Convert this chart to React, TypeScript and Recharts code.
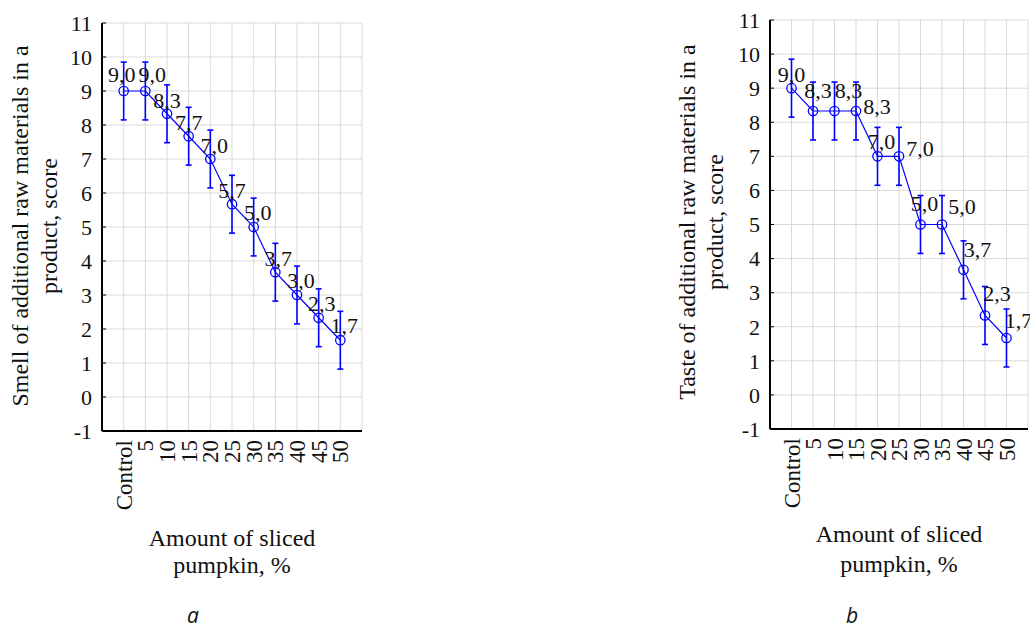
import {
  CartesianGrid,
  ComposedChart,
  ErrorBar,
  LabelList,
  Line,
  XAxis,
  YAxis,
} from "recharts";

const categories = ["Control", "5", "10", "15", "20", "25", "30", "35", "40", "45", "50"];
const categoryIndex = [0, 1, 2, 3, 4, 5, 6, 7, 8, 9, 10];
const yTicks = [-1, 0, 1, 2, 3, 4, 5, 6, 7, 8, 9, 10, 11];

const smellScores = [9.0, 9.0, 8.33, 7.67, 7.0, 5.67, 5.0, 3.67, 3.0, 2.33, 1.67];
const smellErrors = [0.85, 0.85, 0.85, 0.85, 0.85, 0.85, 0.85, 0.85, 0.85, 0.85, 0.85];
const smellLabels = ["9,0", "9,0", "8,3", "7,7", "7,0", "5,7", "5,0", "3,7", "3,0", "2,3", "1,7"];

const tasteScores = [9.0, 8.33, 8.33, 8.33, 7.0, 7.0, 5.0, 5.0, 3.67, 2.33, 1.67];
const tasteErrors = [0.85, 0.85, 0.85, 0.85, 0.85, 0.85, 0.85, 0.85, 0.85, 0.85, 0.85];
const tasteLabels = ["9,0", "8,3", "8,3", "8,3", "7,0", "7,0", "5,0", "5,0", "3,7", "2,3", "1,7"];

// where the value labels sit relative to their point [dx, dy]
const smellLabelShift = [[-2, -9], [7, -9], [0, -6], [0, -6], [4, -6], [0, -6], [4, -7], [3, -6], [4, -7], [3, -7], [4, -7]];
const tasteLabelShift = [[0, -6], [5, -13], [14, -13], [21, 3], [4, -7], [21, 0], [4, -14], [20, -11], [14, -13], [12, -15], [12, -10]];

const serif = "Liberation Serif, Tinos, Times New Roman, DejaVu Serif, serif";
const blue = "#0000ff";
const ink = "#111";

function CategoryTick({ x, y, payload }: any) {
  return (
    <text
      x={x}
      y={y}
      transform={`rotate(-90 ${x} ${y})`}
      dy="0.35em"
      textAnchor="end"
      style={{ fontFamily: serif, fontSize: 23 }}
      fill={ink}
    >
      {categories[payload.value]}
    </text>
  );
}

type ChartProps = {
  left: number;
  top: number;
  width: number;
  marginTop: number;
  marginRight: number;
  xAxisHeight: number;
  scores: number[];
  errors: number[];
  labels: string[];
  shifts: number[][];
};

function ScoreChart(props: ChartProps) {
  const data = categoryIndex.map((idx, i) => ({
    idx,
    score: props.scores[i],
    err: props.errors[i],
    label: props.labels[i],
  }));

  const renderLabel = (p: any) => {
    const i = p.index;
    const px = p.x ?? p.viewBox?.x;
    const py = p.y ?? p.viewBox?.y;
    const [dx, dy] = props.shifts[i];
    return (
      <text
        key={i}
        x={px + dx}
        y={py + dy}
        textAnchor="middle"
        style={{ fontFamily: serif, fontSize: 22 }}
        fill={ink}
      >
        {p.value}
      </text>
    );
  };

  return (
    <div style={{ position: "absolute", left: props.left, top: props.top }}>
      <ComposedChart
        width={props.width}
        height={520}
        data={data}
        margin={{ top: props.marginTop, right: props.marginRight, left: 0, bottom: 0 }}
      >
        <CartesianGrid xAxisId="b" yAxisId="l" stroke="#d9d9d9" strokeWidth={1} />
        <XAxis
          xAxisId="b"
          type="number"
          dataKey="idx"
          domain={[-1, 11]}
          ticks={categoryIndex}
          interval={0}
          allowDataOverflow
          height={props.xAxisHeight}
          tickLine={false}
          tickSize={0}
          tickMargin={9}
          tick={<CategoryTick />}
          axisLine={{ stroke: "#000", strokeWidth: 2 }}
        />
        <XAxis
          xAxisId="t"
          orientation="top"
          type="number"
          domain={[-1, 11]}
          ticks={categoryIndex}
          interval={0}
          allowDataOverflow
          height={0}
          tick={false}
          tickSize={-4}
          tickLine={{ stroke: "#000" }}
          axisLine={{ stroke: "#000", strokeWidth: 2 }}
        />
        <YAxis
          yAxisId="l"
          type="number"
          domain={[-1, 11]}
          ticks={yTicks}
          interval={0}
          allowDataOverflow
          width={102}
          tickSize={-4}
          tickMargin={14}
          tickLine={{ stroke: "#000" }}
          axisLine={{ stroke: "#000", strokeWidth: 2 }}
          tick={{ style: { fontFamily: serif, fontSize: 22 }, fill: ink }}
        />
        <YAxis
          yAxisId="r"
          orientation="right"
          type="number"
          domain={[-1, 11]}
          ticks={yTicks}
          interval={0}
          allowDataOverflow
          width={0}
          tick={false}
          tickSize={-4}
          tickLine={{ stroke: "#000" }}
          axisLine={{ stroke: "#000", strokeWidth: 2 }}
        />
        <Line
          xAxisId="b"
          yAxisId="l"
          type="linear"
          dataKey="score"
          stroke={blue}
          strokeWidth={1.2}
          dot={{ r: 4.7, stroke: blue, strokeWidth: 1.3, fill: "none" }}
          activeDot={false}
          isAnimationActive={false}
        >
          <ErrorBar dataKey="err" direction="y" width={3} stroke={blue} strokeWidth={1.6} isAnimationActive={false} />
          <LabelList dataKey="label" content={renderLabel} />
        </Line>
      </ComposedChart>
    </div>
  );
}

function Titles() {
  const t = { style: { fontFamily: serif, fontSize: 24 }, fill: ink };
  const cap = { style: { fontFamily: "Open Sans, sans-serif", fontStyle: "italic", fontSize: 21 }, fill: ink };
  return (
    <svg
      width={1030}
      height={628}
      style={{ position: "absolute", left: 0, top: 0, pointerEvents: "none" }}
    >
      <g transform="translate(28 226) rotate(-90)">
        <text {...t} textAnchor="middle">Smell of additional raw materials in a</text>
      </g>
      <g transform="translate(57 226) rotate(-90)">
        <text {...t} textAnchor="middle">product, score</text>
      </g>
      <text {...t} x={232} y={546} textAnchor="middle">Amount of sliced</text>
      <text {...t} x={232} y={573} textAnchor="middle">pumpkin, %</text>
      <text {...cap} x={193} y={623} textAnchor="middle">a</text>

      <g transform="translate(695 222) rotate(-90)">
        <text {...t} textAnchor="middle">Taste of additional raw materials in a</text>
      </g>
      <g transform="translate(723 222) rotate(-90)">
        <text {...t} textAnchor="middle">product, score</text>
      </g>
      <text {...t} x={899} y={542} textAnchor="middle">Amount of sliced</text>
      <text {...t} x={899} y={572} textAnchor="middle">pumpkin, %</text>
      <text {...cap} x={852} y={623} textAnchor="middle">b</text>
    </svg>
  );
}

export default function App() {
  return (
    <div style={{ position: "absolute", left: 0, top: 0, width: 1030, height: 628, background: "#fff", overflow: "hidden" }}>
      <ScoreChart
        left={0}
        top={0}
        width={380}
        marginTop={23}
        marginRight={18}
        xAxisHeight={89}
        scores={smellScores}
        errors={smellErrors}
        labels={smellLabels}
        shifts={smellLabelShift}
      />
      <ScoreChart
        left={668}
        top={0}
        width={362}
        marginTop={20}
        marginRight={2}
        xAxisHeight={91}
        scores={tasteScores}
        errors={tasteErrors}
        labels={tasteLabels}
        shifts={tasteLabelShift}
      />
      <Titles />
    </div>
  );
}
